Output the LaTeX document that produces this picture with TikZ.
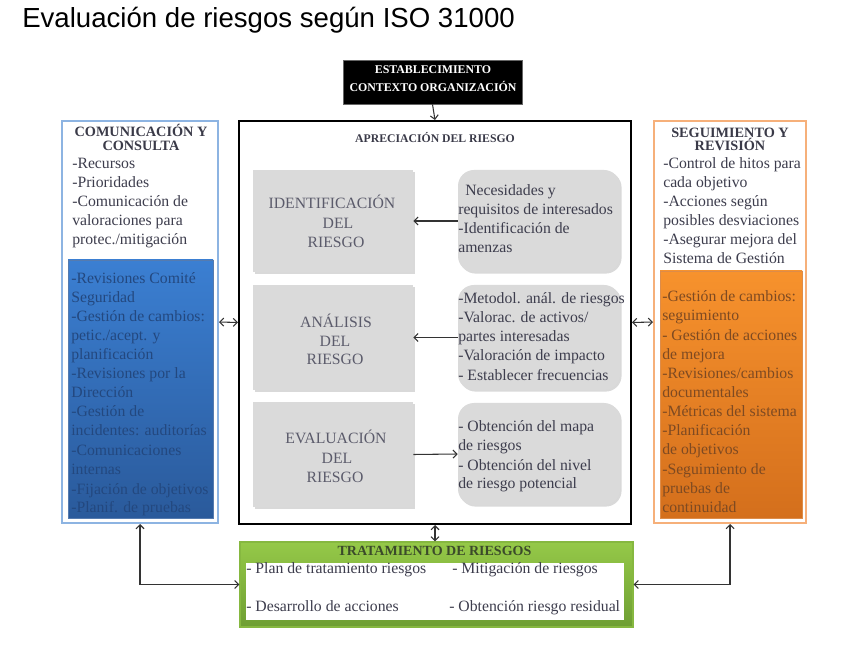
\documentclass[tikz,border=0pt]{standalone}
\usepackage{fontspec}
\setmainfont{Liberation Serif}
\newfontfamily\headsans{Liberation Sans}
\usetikzlibrary{arrows.meta,fit,shadows}
\definecolor{bodyc}{HTML}{3D3D4D}
\definecolor{titc}{HTML}{3A3A48}
\definecolor{grayc}{HTML}{5B5B6B}
\definecolor{boxgray}{HTML}{DADADA}
\definecolor{bluebd}{HTML}{8DB4E2}
\definecolor{bluetop}{HTML}{3B7FD2}
\definecolor{bluebot}{HTML}{2A5A9B}
\definecolor{bluetxt}{HTML}{23487F}
\definecolor{orbd}{HTML}{F6B07A}
\definecolor{ortop}{HTML}{F7922D}
\definecolor{orbot}{HTML}{D46F1C}
\definecolor{ortxt}{HTML}{7E4A22}
\definecolor{grtop}{HTML}{95C948}
\definecolor{grbot}{HTML}{6E9E33}
\definecolor{grbd}{HTML}{86B840}
\definecolor{grtxt}{HTML}{3B4A2A}
\definecolor{linec}{HTML}{333333}
\begin{document}
\begin{tikzpicture}[x=0.75pt,y=-0.75pt,
  >={Straight Barb[length=3pt,width=6pt]},
  txt/.style={anchor=west,inner sep=0pt,font=\fontsize{11.8}{14}\selectfont,text height=8pt,text depth=2.5pt,text=bodyc},
  gtxt/.style={anchor=center,inner sep=0pt,font=\fontsize{11.8}{14}\selectfont,text height=8pt,text depth=0pt,text=grayc},
  ttl/.style={anchor=center,inner sep=0pt,font=\bfseries\fontsize{10.7}{12}\selectfont,text height=7.5pt,text depth=0pt,text=titc},
  frame/.style={inner sep=0pt,line width=1.5pt},
  graybox/.style={inner sep=0pt,fill=boxgray,drop shadow={shadow xshift=1.2pt,shadow yshift=-1.2pt,opacity=.3}},
  roundbox/.style={graybox,rounded corners=12pt},
  conn/.style={draw=linec,line width=0.8pt}]
\useasboundingbox (0,0) rectangle (842,655);

% main title
\node[anchor=base west,inner sep=0pt,font=\headsans\fontsize{20.7}{24}\selectfont] (maintitle) at (22,28) {Evaluación de riesgos según ISO 31000};

% establecimiento
\node[fit={(343,60)(522,104)},inner sep=0pt,fill=black,draw=black!60,line width=0.6pt] (est) {};
\node[anchor=center,inner sep=0pt,text=white,font=\bfseries\fontsize{8.9}{10}\selectfont,text height=6.5pt] (est1) at (433,69) {ESTABLECIMIENTO};
\node[anchor=center,inner sep=0pt,text=white,font=\bfseries\fontsize{8.9}{10}\selectfont,text height=6.5pt] (est2) at (433,87) {CONTEXTO ORGANIZACIÓN};

% central box
\node[fit={(239,121)(631,524)},frame,draw=black] (apr) {};
\node[ttl,font=\bfseries\fontsize{8.8}{10}\selectfont,text height=6.2pt] (aprt) at (435,138) {APRECIACIÓN DEL RIESGO};

% gray boxes
\node[fit={(253,170)(413,272)},graybox] (idl) {};
\node[fit={(253,285)(413,390)},graybox] (anl) {};
\node[fit={(253,402)(413,507)},graybox] (evl) {};
\node[fit={(458,170)(620,272)},roundbox] (idr) {};
\node[fit={(458,285)(620,390)},roundbox] (anr) {};
\node[fit={(458,403)(620,505)},roundbox] (evr) {};

\node[gtxt] (g1) at (332,203) {IDENTIFICACIÓN};
\node[gtxt] (g2) at (338,223) {DEL};
\node[gtxt] (g3) at (336,242) {RIESGO};
\node[gtxt] (g4) at (336,322) {ANÁLISIS};
\node[gtxt] (g5) at (335,341) {DEL};
\node[gtxt] (g6) at (335,359) {RIESGO};
\node[gtxt] (g7) at (336,438) {EVALUACIÓN};
\node[gtxt] (g8) at (337,458) {DEL};
\node[gtxt] (g9) at (335,477) {RIESGO};

\node[txt] (r0) at (465,192) {Necesidades y};
\foreach \yy/\tt [count=\i] in {211/{requisitos de interesados},230/{-Identificación de},249/{amenzas}}
  \node[txt] (ri\i) at (458,\yy) {\tt};
\foreach \yy/\tt [count=\i] in {300/{-Metodol. anál. de riesgos},319/{-Valorac. de activos/},338/{partes interesadas},357/{-Valoración de impacto},376.5/{- Establecer frecuencias}}
  \node[txt] (ra\i) at (458,\yy) {\tt};
\foreach \yy/\tt [count=\i] in {428/{- Obtención del mapa},447/{de riesgos},466.5/{- Obtención del nivel},485/{de riesgo potencial}}
  \node[txt] (re\i) at (458,\yy) {\tt};

\draw[conn,->] (idr.west) -- (idl.east);
\draw[conn,->] (anr.west) -- (anl.east);
\draw[conn,->] (evl.east) -- (evr.west);

% left box
\node[fit={(62,121)(218,523)},frame,draw=bluebd,fill=white] (com) {};
\node[fit={(68,260)(213,518)},inner sep=0pt,top color=bluetop,bottom color=bluebot,draw=bluebot!80,line width=0.4pt] (comin) {};
\node[ttl] (ct1) at (141,132) {COMUNICACIÓN Y};
\node[ttl] (ct2) at (141,146) {CONSULTA};
\foreach \yy/\tt [count=\i] in {164.5/{-Recursos},183.5/{-Prioridades},202.5/{-Comunicación de},221.5/{valoraciones para},240.5/{protec./mitigación}}
  \node[txt] (cl\i) at (72,\yy) {\tt};
\foreach \yy/\tt [count=\i] in {280/{-Revisiones Comité},299/{Seguridad},318/{-Gestión de cambios:},337/{petic./acept. y},356/{planificación},375/{-Revisiones por la},394/{Dirección},413/{-Gestión de},432/{incidentes: auditorías},451.5/{-Comunicaciones},471/{internas},490.5/{-Fijación de objetivos},509/{-Planif. de pruebas}}
  \node[txt,text=bluetxt] (cb\i) at (71,\yy) {\tt};

% right box
\node[fit={(654,121)(806,523)},frame,draw=orbd,fill=white] (seg) {};
\node[fit={(660,271)(802,518)},inner sep=0pt,top color=ortop,bottom color=orbot,draw=orbot!80,line width=0.4pt] (segin) {};
\node[ttl] (st1) at (730,133) {SEGUIMIENTO Y};
\node[ttl] (st2) at (730,145.5) {REVISIÓN};
\foreach \yy/\tt [count=\i] in {164.5/{-Control de hitos para},183.5/{cada objetivo},202.5/{-Acciones según},221.5/{posibles desviaciones},240.5/{-Asegurar mejora del},259.5/{Sistema de Gestión}}
  \node[txt] (sl\i) at (663,\yy) {\tt};
\foreach \yy/\tt [count=\i] in {298/{-Gestión de cambios:},317/{seguimiento},336.5/{- Gestión de acciones},355.5/{de mejora},375/{-Revisiones/cambios},393.5/{documentales},412.5/{-Métricas del sistema},432/{-Planificación},451/{de objetivos},470.5/{-Seguimiento de},489.5/{pruebas de},508.5/{continuidad}}
  \node[txt,text=ortxt] (so\i) at (662,\yy) {\tt};

% tratamiento
\node[fit={(240,542)(633,627)},inner sep=0pt,top color=grtop,bottom color=grbot,draw=grbd,line width=0.8pt] (trat) {};
\node[fit={(246,563)(624,620)},inner sep=0pt,fill=white] (tratin) {};
\node[ttl,text=grtxt,font=\bfseries\fontsize{10.5}{12}\selectfont] (tt) at (434.5,550.5) {TRATAMIENTO DE RIESGOS};
\node[txt] (t1) at (246,570) {- Plan de tratamiento riesgos};
\node[txt] (t2) at (452,570) {- Mitigación de riesgos};
\node[txt] (t3) at (246,608) {- Desarrollo de acciones};
\node[txt] (t4) at (449,608) {- Obtención riesgo residual};

% connectors
\draw[conn,->] (est.south) -- (apr.north);
\draw[conn,<->] (com.east) -- (apr.west);
\draw[conn,<->] (seg.west) -- (apr.east);
\draw[conn,<->] (apr.south) -- (apr.south |- trat.north);
\draw[conn,<->] (com.south) |- (trat.west);
\draw[conn,<->] (seg.south) |- (trat.east);
\end{tikzpicture}
\end{document}
